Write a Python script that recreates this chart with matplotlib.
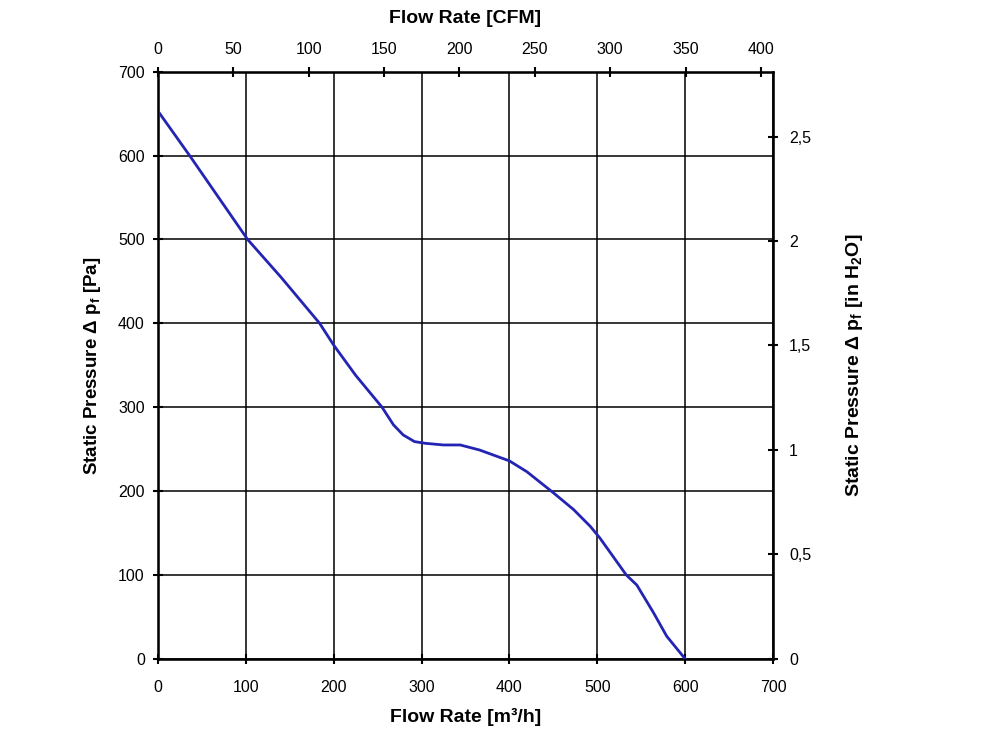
import matplotlib
matplotlib.use('Agg')
import matplotlib.pyplot as plt
from matplotlib.ticker import FuncFormatter, MultipleLocator

plt.rcParams['font.family'] = ['Liberation Sans', 'DejaVu Sans']
plt.rcParams['mathtext.default'] = 'regular'

# fan curve
flow_m3h = [0, 36, 102, 140, 184, 200, 225, 255, 268, 279, 292, 304, 325, 344,
            366, 400, 420, 450, 473, 492, 503, 518, 533, 545, 564, 579, 600]
pressure_pa = [653, 600, 500, 455, 400, 374, 338, 300, 279, 267, 259, 257, 255, 255,
               249, 236, 223, 198, 178, 158, 144, 122, 100, 88, 55, 27, 0]

cfm_ticks = [0, 50, 100, 150, 200, 250, 300, 350, 400]
inh2o_ticks = [0, 0.5, 1, 1.5, 2, 2.5]
PA_PER_INH2O = 249.09
CFM_MAX = 408

fig = plt.figure(figsize=(10, 7.47), dpi=100)
ax = fig.add_axes([0.158, 0.118, 0.615, 0.786])

ax.plot(flow_m3h, pressure_pa, color='#2424b4', linewidth=2, zorder=3)

ax.set_xlim(0, 700)
ax.set_ylim(0, 700)
ax.xaxis.set_major_locator(MultipleLocator(100))
ax.yaxis.set_major_locator(MultipleLocator(100))
ax.grid(True, color='black', linewidth=1.1)
for s in ax.spines.values():
    s.set_linewidth(1.8)
ax.tick_params(direction='inout', length=7, width=1.5, labelsize=11.5)
ax.tick_params(axis='x', pad=12)
ax.tick_params(axis='y', pad=6)

ax.set_xlabel('Flow Rate [m³/h]', fontsize=14, fontweight='bold', labelpad=9)
ax.set_ylabel('Static Pressure Δ p$_f$ [Pa]', fontsize=13.5, fontweight='bold', labelpad=11)

top = ax.twiny()
top.set_xlim(0, CFM_MAX)
top.set_xticks(cfm_ticks)
top.tick_params(direction='inout', length=7, width=1.5, labelsize=11.5, pad=7)
top.set_xlabel('Flow Rate [CFM]', fontsize=14, fontweight='bold', labelpad=14)

right = ax.twinx()
right.set_ylim(0, 700 / PA_PER_INH2O)
right.set_yticks(inh2o_ticks)
right.yaxis.set_major_formatter(FuncFormatter(lambda v, p: ('%g' % v).replace('.', ',')))
right.tick_params(direction='inout', length=7, width=1.5, labelsize=11.5, pad=8)
right.set_ylabel('Static Pressure Δ p$_f$ [in H$_2$O]', fontsize=14, fontweight='bold', labelpad=24)

plt.savefig('out.png', dpi=100)
